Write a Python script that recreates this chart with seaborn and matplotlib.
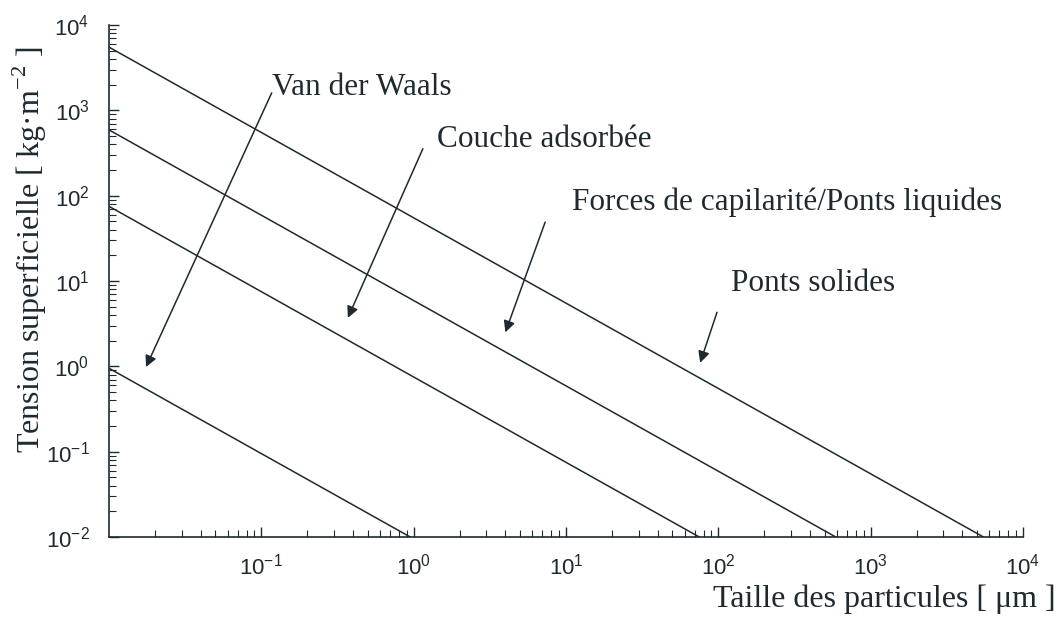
import pandas as pd
import seaborn as sns
import matplotlib.pyplot as plt
from matplotlib.ticker import LogLocator

# Valeurs (droites de pente -1 en log-log)
forces = ['Ponts solides', 'Forces de capilarité/Ponts liquides', 'Couche adsorbée', 'Van der Waals']
taille_debut = [0.01, 0.01, 0.01, 0.01]
tension_debut = [5.5e3, 5.9e2, 7.5e1, 0.95]
taille_fin = [5.5e3, 5.9e2, 7.5e1, 0.95]
tension_fin = [0.01, 0.01, 0.01, 0.01]

# Graduations affichées
x_graduations = [1e-1, 1e0, 1e1, 1e2, 1e3, 1e4]
y_graduations = [1e-2, 1e-1, 1e0, 1e1, 1e2, 1e3, 1e4]

# Annotations : texte, position du texte, départ et pointe de la flèche
etiquettes = ['Van der Waals', 'Couche adsorbée', 'Forces de capilarité/Ponts liquides', 'Ponts solides']
texte_x = [0.117, 1.43, 11.0, 122.0]
texte_y = [1.87e3, 450.0, 84.0, 9.4]
fleche_debut_x = [0.117, 1.15, 7.3, 98.0]
fleche_debut_y = [1.6e3, 355.0, 49.0, 4.3]
fleche_pointe_x = [0.0175, 0.37, 4.0, 76.0]
fleche_pointe_y = [0.98, 3.7, 2.5, 1.1]

rows = []
for f, x0, y0, x1, y1 in zip(forces, taille_debut, tension_debut, taille_fin, tension_fin):
    rows.append({'force': f, 'taille': x0, 'tension': y0})
    rows.append({'force': f, 'taille': x1, 'tension': y1})
df = pd.DataFrame(rows)

sns.set_style('ticks')
plt.rcParams['font.family'] = ['Liberation Sans', 'DejaVu Sans']
serif = ['Liberation Serif', 'DejaVu Serif']
encre = '#1e2a30'

fig = plt.figure(figsize=(10.62, 6.24), dpi=100)
ax = fig.add_axes([0.1026, 0.1394, 0.8607, 0.8206])
ax.set_xscale('log')
ax.set_yscale('log')

sns.lineplot(data=df, x='taille', y='tension', units='force', estimator=None,
             color=encre, linewidth=1.1, ax=ax, legend=False)

ax.set_xlim(1e-2, 1e4)
ax.set_ylim(1e-2, 1e4)
ax.set_xticks(x_graduations)
ax.set_yticks(y_graduations)
ax.xaxis.set_minor_locator(LogLocator(base=10, subs=range(2, 10), numticks=100))
ax.yaxis.set_minor_locator(LogLocator(base=10, subs=range(2, 10), numticks=100))
ax.tick_params(which='major', direction='in', length=7, width=1.0, labelsize=16,
               colors=encre)
ax.tick_params(axis='x', which='major', pad=12)
ax.tick_params(axis='y', which='major', pad=14)
ax.tick_params(which='minor', direction='in', length=5, width=0.8, colors=encre)
sns.despine(ax=ax)
for s in ['left', 'bottom']:
    ax.spines[s].set_color(encre)
    ax.spines[s].set_linewidth(1.2)

for txt, tx, ty, sx, sy, px, py in zip(etiquettes, texte_x, texte_y, fleche_debut_x,
                                         fleche_debut_y, fleche_pointe_x, fleche_pointe_y):
    ax.text(tx, ty, txt, ha='left', va='center', fontsize=22.5, family=serif, color=encre)
    ax.annotate('', xy=(px, py), xytext=(sx, sy),
                arrowprops=dict(arrowstyle='-|>', color=encre, lw=1.1,
                                mutation_scale=17, shrinkA=0, shrinkB=0))

ax.set_xlabel('')
ax.set_ylabel('')
fig.text(0.994, 0.04, 'Taille des particules [ μm ]', ha='right', va='center',
         fontsize=23, family=serif, color=encre)
fig.text(0.028, 0.6, 'Tension superficielle [ kg·m$^{\\mathdefault{-2}}$ ]', rotation=90,
         ha='center', va='center', fontsize=23, family=serif, color=encre)

fig.savefig('out.png', dpi=100)
